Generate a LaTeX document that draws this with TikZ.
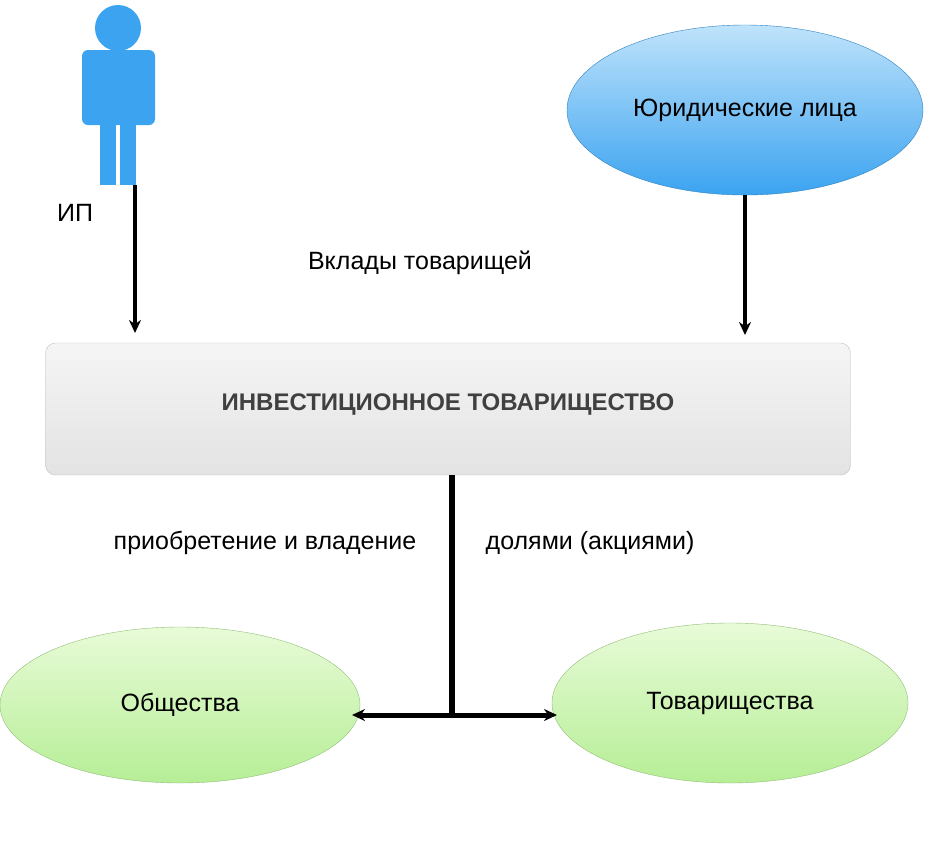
\documentclass[tikz,border=0pt]{standalone}
\usepackage{fontspec}
\setmainfont{Liberation Sans}
\usetikzlibrary{shapes.geometric,arrows.meta}
\definecolor{blueI}{HTML}{3BA3F0}
\definecolor{blueL}{HTML}{BFE3FB}
\definecolor{greenL}{HTML}{E8FBD8}
\definecolor{greenD}{HTML}{B6EE96}
\tikzset{
 lbl/.style={font=\fontsize{25}{30}\selectfont, text=black},
 conn/.style={line width=3.5pt, -{Stealth[length=13pt,width=12pt]}},
}
\begin{document}
\begin{tikzpicture}[x=1pt,y=-1pt]
\useasboundingbox (0,0) rectangle (946,844);
% person
\fill[blueI] (118,28) circle (23);
\fill[blueI,rounded corners=6] (82,50) rectangle (155,125);
\fill[blueI] (100,110) rectangle (116,185);
\fill[blueI] (120,110) rectangle (136,185);
\coordinate (ip) at (135,185);
\node[lbl] (iplbl) at (75,213) {ИП};
% legal entities
\node[ellipse, minimum width=356, minimum height=170, top color=blueL, bottom color=blueI, draw=blueI!80!black] (ul) at (745,110) {};
\node[lbl] at (ul) {Юридические лица};
% main box
\node[draw=gray!50, rounded corners=10, top color=gray!8, bottom color=gray!22, minimum width=805, minimum height=132] (it) at (448,409) {};
\node[font=\fontsize{24}{28}\selectfont\bfseries, text=black!75] at (448,405) {ИНВЕСТИЦИОННОЕ ТОВАРИЩЕСТВО};
\coordinate (a1) at (135,333);
\coordinate (a2) at (745,335);
\draw[conn] (ip) -- (a1);
\draw[conn] (745,195) -- (a2);
\node[lbl] (vk) at (420,263) {Вклады товарищей};
% bottom
\node[ellipse, minimum width=360, minimum height=156, top color=greenL, bottom color=greenD, draw=greenD!80!black] (ob) at (180,705) {};
\node[lbl] at (ob) {Общества};
\node[ellipse, minimum width=356, minimum height=160, top color=greenL, bottom color=greenD, draw=greenD!80!black] (tv) at (730,703) {};
\node[lbl] at (tv) {Товарищества};
\coordinate (j) at (452,715);
\draw[line width=6pt] (452,475) -- (j);
\draw[conn, line width=5pt] (j) -- (352,715);
\draw[conn, line width=5pt] (j) -- (557,715);
\node[lbl] at (265,543) {приобретение и владение};
\node[lbl] at (590,543) {долями (акциями)};
\end{tikzpicture}
\end{document}
